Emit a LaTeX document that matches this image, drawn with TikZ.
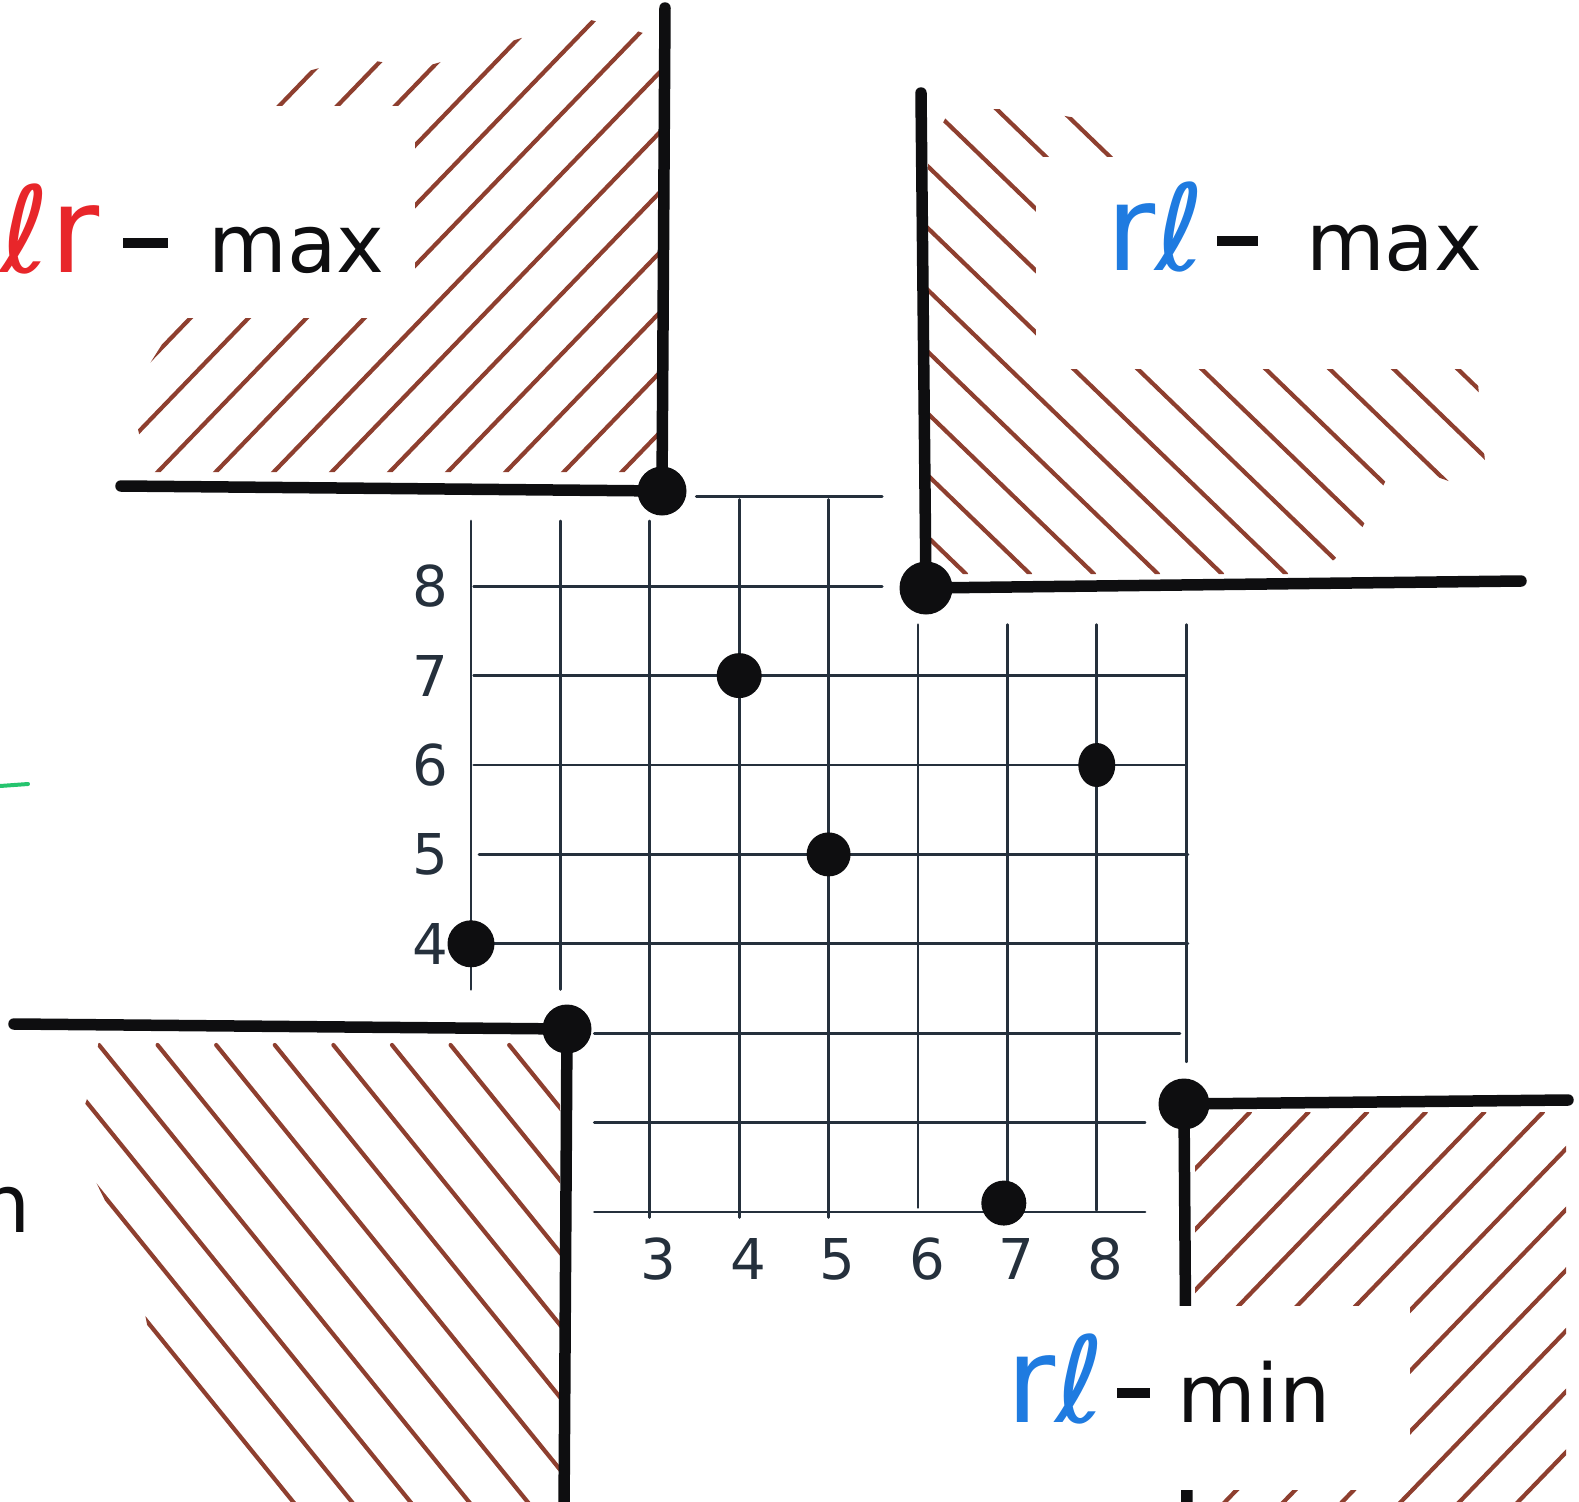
\documentclass[tikz,border=0pt]{standalone}
\usepackage{fontspec}
\setmainfont{DejaVu Sans}
\usetikzlibrary{shapes.geometric}
\definecolor{ink}{HTML}{0E0E10}
\definecolor{gridc}{HTML}{25303C}
\definecolor{hatchc}{HTML}{8E3F2F}
\definecolor{lrred}{HTML}{E8262A}
\definecolor{rlblue}{HTML}{1F7BE0}
\definecolor{lrgreen}{HTML}{25C46E}
\newcommand\bigtagfont{\fontsize{34pt}{38pt}\selectfont}
\newcommand\tagdash[1]{\rule[0.3em]{#1}{0.12em}}
\tikzset{
  every picture/.style={line cap=round},
  wall/.style={draw=ink, line width=1.15mm, line cap=round},
  gridline/.style={draw=gridc, line width=0.28mm},
  hatch/.style={draw=hatchc, line width=0.42mm},
  dot/.style={circle, fill=ink, inner sep=0pt, minimum size=#1},
  dot/.default=4.5mm,
  patch/.style={fill=white},
  tag/.style={font=\fontsize{23pt}{27pt}\selectfont, text=ink, inner sep=0pt},
  axlabel/.style={font=\fontsize{16pt}{19pt}\selectfont, text=gridc, inner sep=0pt},
}

\begin{document}
\begin{tikzpicture}[x=0.1mm, y=-0.1mm]
  \useasboundingbox (0,0) rectangle (1579,1502);
  \clip (0,0) rectangle (1579,1502);
  % hatched corners
  \begin{scope}
    \clip (148,472) -- (664,472) -- (664,40) -- (634,30) -- (582,18) -- (500,45) -- (420,68) -- (356,58) -- (290,76) -- (255,100) -- (190,300) -- (130,395) -- cycle;
    \foreach \i in {-5,...,9}
      \draw[hatch] ({150+58*\i},480) -- ++(-46:900);
  \end{scope}
  \begin{scope}
    \clip (928,150) -- (951,108) -- (1030,110) -- (1123,126) -- (1160,160) -- (1475,350) -- (1488,495) -- (1395,462) -- (1362,528) -- (1334,560) -- (1290,574) -- (928,574) -- cycle;
    \foreach \i in {-2,...,11}
      \draw[hatch] ({1030+64*\i},574) -- ++(224:900);
  \end{scope}
  \begin{scope}
    \clip (99,1040) -- (560,1040) -- (560,1502) -- (282,1502) -- (151,1345) -- (135,1262) -- (74,1137) -- (90,1090) -- cycle;
    \foreach \i in {-4,...,8}
      \draw[hatch] ({99+58.6*\i},1045) -- ++(51:900);
  \end{scope}
  \begin{scope}
    \clip (1195,1112) rectangle (1566,1502);
    \foreach \i in {-1,...,12}
      \draw[hatch] ({1250+58.6*\i},1112) -- ++(134:900);
  \end{scope}

  % grid with the points
  \begin{scope}[shift={(381.6,1301.4)}, x=8.94mm, y=8.94mm]
    \foreach \k/\a/\b in {1/3.49/8.73, 2/3.49/8.73, 3/0.94/8.73, 4/0.94/8.97, 5/0.94/8.97,
                          6/1.05/7.57, 7/1.05/7.57, 8/1.02/7.57, 9/2.68/7.57}
      \draw[gridline] (\k,\a) -- (\k,\b);
    \foreach \j/\a/\b in {9/3.52/5.6, 8/1.03/5.6, 7/1.03/8.99, 6/1.03/8.99, 5/1.09/9.02,
                          4/1.03/9.02, 3/2.38/8.93, 2/2.38/8.54, 1/2.38/8.54}
      \draw[gridline] (\a,\j) -- (\b,\j);
    \foreach \j in {4,...,8}
      \node[axlabel] (ylab\j) at (0.55,\j) {\j};
    \foreach \k in {3,...,8}
      \node[axlabel] (xlab\k) at (\k+0.1,0.47) {\k};
    \node[dot=4.7mm] (p14) at (1,4) {};
    \node[dot] (p47) at (4,7) {};
    \node[dot=4.4mm] (p55) at (5,5) {};
    \node[ellipse, fill=ink, inner sep=0pt, minimum width=3.7mm, minimum height=4.4mm] (p86) at (8,6) {};
    \node[dot] (p71) at (6.96,1.10) {};
  \end{scope}

  % corner walls
  \node[dot=4.9mm] (lrmax) at (662,491) {};
  \coordinate (lrmaxtop) at (665,8);
  \coordinate (lrmaxleft) at (121,486);
  \draw[wall] (lrmaxtop) -- (lrmax.center) -- (lrmaxleft);
  \node[dot=5.3mm] (rlmax) at (926,588) {};
  \coordinate (rlmaxtop) at (921,93);
  \coordinate (rlmaxright) at (1521,581);
  \draw[wall] (rlmaxtop) -- (rlmax.center) -- (rlmaxright);
  \node[dot=4.9mm] (lrmin) at (567,1029) {};
  \coordinate (lrminleft) at (14,1024);
  \coordinate (lrminbottom) at (564,1515);
  \draw[wall] (lrminleft) -- (lrmin.center) -- (lrminbottom);
  \node[dot=5.1mm] (rlmin) at (1184,1104) {};
  \coordinate (rlminright) at (1568,1100);
  \coordinate (rlminbottom) at (1187,1515);
  \draw[wall] (rlminright) -- (rlmin.center) -- (rlminbottom);

  % labels on white patches
  \fill[patch] (0,106) rectangle (415,318);
  \fill[patch] (1036,157) rectangle (1480,369);
  \fill[patch] (982,1306) rectangle (1410,1490);
  \node[tag, anchor=base west] (lrmaxtag) at (0,272) {{\bigtagfont\color{lrred}ℓr}\hspace{0.3em}\tagdash{0.55em}\hspace{0.5em}max};
  \node[tag, anchor=base west] (rlmaxtag) at (1106,270) {{\bigtagfont\color{rlblue}rℓ}\hspace{0.15em}\tagdash{0.5em}\hspace{0.6em}max};
  \node[tag, anchor=base west] (rlmintag) at (1006,1422) {{\bigtagfont\color{rlblue}rℓ}\hspace{0.15em}\tagdash{0.4em}\hspace{0.35em}min};
  \draw[draw=lrgreen, line width=0.4mm] (0,786) -- (28,784);
  \node[tag, anchor=base east] (lrminfrag) at (31,1232) {n};
\end{tikzpicture}
\end{document}
